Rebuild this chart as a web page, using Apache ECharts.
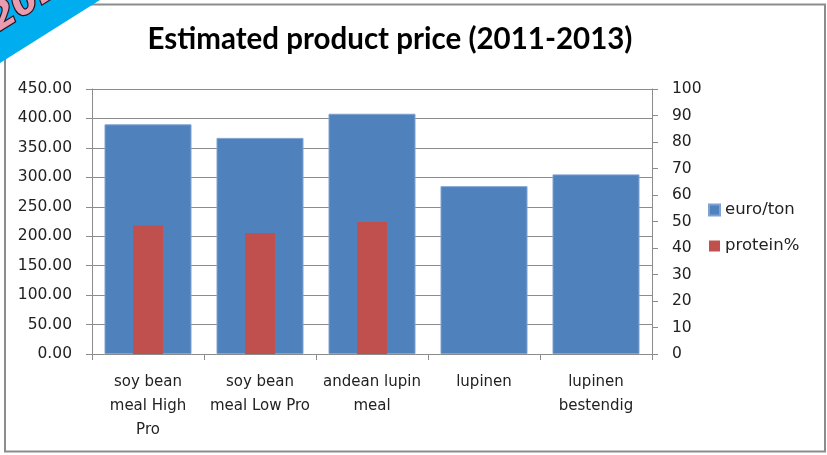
<!DOCTYPE html>
<html>
<head>
<meta charset="utf-8">
<script src="https://cdn.jsdelivr.net/npm/echarts@6/dist/echarts.min.js"></script>
<style>html,body{margin:0;padding:0;background:#fff}#c{width:827px;height:455px}</style>
</head>
<body>
<div id="c"></div>
<script>
const categories = ['soy bean\nmeal High\nPro', 'soy bean\nmeal Low Pro', 'andean lupin\nmeal', 'lupinen', 'lupinen\nbestendig'];
const euroPerTon = [390, 367, 408, 285, 305];
const proteinPct = [48.5, 45.7, 49.8, null, null];
const leftTicks = {min: 0, max: 450, interval: 50};
const rightTicks = {min: 0, max: 100, interval: 10};
const titleText = 'Estimated product price (2011-2013)';
const ribbonText = '2014';

const chart = echarts.init(document.getElementById('c'), null, {renderer: 'canvas'});
const gray = '#8c8c8c';
const txt = '#222';
chart.setOption({
  animation: false,
  backgroundColor: '#fff',
  grid: {left: 92, right: 175, top: 89, bottom: 101},
  legend: {
    orient: 'vertical', left: 703, top: 195, itemWidth: 11, itemHeight: 11, itemGap: 16,
    icon: 'rect',
    textStyle: {fontFamily: 'DejaVu Sans', fontSize: 16.5, color: txt, lineHeight: 20},
    data: ['euro/ton', 'protein%']
  },
  xAxis: [{
    type: 'category', data: categories,
    axisLine: {lineStyle: {color: gray, width: 1}},
    axisTick: {show: true, alignWithLabel: false, length: 6, lineStyle: {color: gray}},
    axisLabel: {fontFamily: 'DejaVu Sans', fontSize: 15, color: txt, lineHeight: 24, margin: 16, interval: 0}
  }, {
    type: 'category', data: categories, show: false
  }],
  yAxis: [{
    type: 'value', min: leftTicks.min, max: leftTicks.max, interval: leftTicks.interval, position: 'left',
    axisLine: {show: true, lineStyle: {color: gray}},
    axisTick: {show: true, length: 6, lineStyle: {color: gray}},
    splitLine: {show: true, lineStyle: {color: gray, width: 1}},
    axisLabel: {formatter: v => v.toFixed(2), fontFamily: 'DejaVu Sans', fontSize: 15.5, color: txt, margin: 20}
  }, {
    type: 'value', min: rightTicks.min, max: rightTicks.max, interval: rightTicks.interval, position: 'right',
    axisLine: {show: true, lineStyle: {color: gray}},
    axisTick: {show: true, length: 6, lineStyle: {color: gray}},
    splitLine: {show: false},
    axisLabel: {fontFamily: 'DejaVu Sans', fontSize: 15.5, color: txt, margin: 20}
  }],
  series: [{
    name: 'euro/ton', type: 'bar', xAxisIndex: 0, yAxisIndex: 0, data: euroPerTon,
    barWidth: 87,
    itemStyle: {color: '#4F81BD', borderColor: '#7fa2d2', borderWidth: 1}
  }, {
    name: 'protein%', type: 'bar', xAxisIndex: 1, yAxisIndex: 1, data: proteinPct,
    barWidth: 30,
    itemStyle: {color: '#C0504D'}
  }],
  graphic: [{
    type: 'rect', shape: {x: 5, y: 4.5, width: 820, height: 447}, z: 1,
    style: {fill: null, stroke: gray, lineWidth: 2}
  }, {
    type: 'text', x: 390, y: 39, z: 10,
    style: {text: titleText, fontFamily: 'Lato', fontWeight: 'bold', fontSize: 29.5, fill: '#000', align: 'center', verticalAlign: 'middle'}
  }, {
    type: 'polygon', z: 20, shape: {points: [[0, 0], [100, 0], [0, 63]]},
    style: {fill: '#00AEEF'}
  }, {
    type: 'text', x: 3, y: 39, rotation: 0.56, z: 21,
    style: {text: ribbonText, fontFamily: 'DejaVu Sans', fontWeight: 'bold', fontStyle: 'italic', fontSize: 36,
      fill: '#e99bb0', stroke: '#2b1420', lineWidth: 2.5, align: 'left', verticalAlign: 'bottom'}
  }]
});
</script>
</body>
</html>
